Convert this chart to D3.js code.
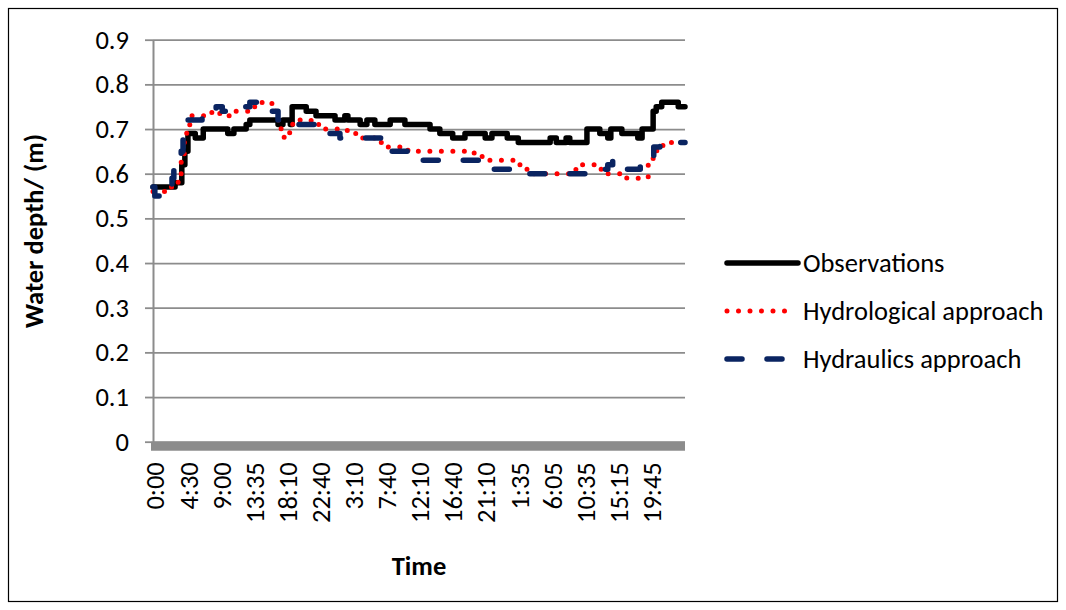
<!DOCTYPE html>
<html>
<head>
<meta charset="utf-8">
<script src="https://cdn.jsdelivr.net/npm/d3@7"></script>
<style>
  html, body { margin: 0; padding: 0; background: #fff; }
  svg { display: block; }
  text { font-family: Carlito, Calibri, Lato, "Liberation Sans", sans-serif; fill: #000; }
</style>
</head>
<body>
<svg id="chart" width="1066" height="610"></svg>
<script>
// ---------- DATA ----------
// Category axis: 5-minute records; a label every 54 categories.
const nCategories = 868;
const labelInterval = 54;
const tickLabels = ["0:00","4:30","9:00","13:35","18:10","22:40","3:10","7:40","12:10","16:40","21:10","1:35","6:05","10:35","15:15","19:45"];
const yTicks = [0, 0.1, 0.2, 0.3, 0.4, 0.5, 0.6, 0.7, 0.8, 0.9];
const seriesNames = ["Observations", "Hydrological approach", "Hydraulics approach"];

// Step series: category index where a level starts, and the level (m)
const obsCat = [0,36,47,52,57,69,82,122,132,152,158,204,212,224,227,250,266,297,313,318,338,349,362,387,411,452,468,489,509,542,553,578,596,648,658,674,680,708,729,742,747,765,791,798,816,821,830,857];
const obsVal = [0.57,0.58,0.62,0.65,0.69,0.68,0.70,0.69,0.70,0.71,0.72,0.71,0.72,0.71,0.75,0.74,0.73,0.72,0.73,0.72,0.71,0.72,0.71,0.72,0.71,0.70,0.69,0.68,0.69,0.68,0.69,0.68,0.67,0.68,0.67,0.68,0.67,0.70,0.69,0.68,0.70,0.69,0.68,0.70,0.74,0.75,0.76,0.75];

const hydroCat = [0,24,41,46,51,55,60,96,109,126,158,178,194,202,209,214,223,228,258,271,317,331,366,383,416,524,537,589,602,614,690,729,741,773,808,816,822,832];
const hydroVal = [0.56,0.57,0.60,0.63,0.67,0.70,0.73,0.74,0.73,0.74,0.75,0.76,0.74,0.72,0.70,0.68,0.70,0.72,0.71,0.70,0.69,0.68,0.67,0.66,0.65,0.64,0.63,0.62,0.61,0.60,0.62,0.61,0.60,0.59,0.62,0.64,0.66,0.67];

const hydrauCat = [0,3,28,31,34,46,49,54,80,103,113,142,158,184,194,204,220,273,305,379,428,547,607,705,742,750,770,795,811,817,827];
const hydrauVal = [0.57,0.55,0.56,0.59,0.61,0.65,0.69,0.72,0.74,0.75,0.74,0.75,0.76,0.75,0.74,0.72,0.71,0.69,0.68,0.65,0.63,0.61,0.60,0.61,0.62,0.63,0.61,0.62,0.64,0.66,0.67];

// ---------- LAYOUT ----------
const svg = d3.select("#chart");
const plot = { left: 153, right: 685, top: 39.7, bottom: 441.7 };
const FS = 26.5;

svg.append("rect").attr("x", 8.5).attr("y", 8.5).attr("width", 1049).attr("height", 593)
  .attr("fill", "#fff").attr("stroke", "#000").attr("stroke-width", 1.2);

const x = d3.scaleLinear().domain([0, nCategories]).range([plot.left, plot.right]);
const y = d3.scaleLinear().domain([0, 0.9]).range([plot.bottom, plot.top]);

const gridColor = "#8c8c8c";

// gridlines
const grid = svg.append("g").attr("transform", `translate(${plot.left},0)`)
  .call(d3.axisLeft(y).tickValues(yTicks).tickSize(-(plot.right - plot.left)).tickFormat(""));
grid.select(".domain").remove();
grid.selectAll("line").attr("stroke", gridColor).attr("stroke-width", 1.8);

// y axis
const yAxis = svg.append("g").attr("transform", `translate(${plot.left},0)`)
  .call(d3.axisLeft(y).tickValues(yTicks).tickSize(8).tickSizeOuter(0).tickPadding(16)
    .tickFormat(d => d === 0 ? "0" : d3.format(".1f")(d)));
yAxis.select(".domain").attr("stroke", gridColor).attr("stroke-width", 2);
yAxis.selectAll(".tick line").attr("stroke", gridColor).attr("stroke-width", 1.8);
yAxis.selectAll(".tick text").attr("font-size", FS).attr("fill", "#000")
  .style("font-family", "Carlito, Calibri, Lato, sans-serif");

// x axis (thick bar)
const tickCats = tickLabels.map((_, i) => i * labelInterval);
const xAxis = svg.append("g").attr("transform", `translate(0,${plot.bottom + 4.5})`)
  .call(d3.axisBottom(x).tickValues(tickCats).tickSize(0).tickSizeOuter(0)
    .tickFormat((d, i) => tickLabels[i]));
xAxis.select(".domain").attr("stroke", gridColor).attr("stroke-width", 9)
  .attr("d", `M${plot.left - 2},0H${plot.right}`);
xAxis.selectAll(".tick").attr("transform", d => `translate(${x(d + 0.5)},0)`);
xAxis.selectAll(".tick text")
  .attr("font-size", FS).attr("fill", "#000")
  .style("font-family", "Carlito, Calibri, Lato, sans-serif")
  .attr("text-anchor", "end")
  .attr("transform", "rotate(-90)")
  .attr("x", -16).attr("y", 0).attr("dy", "0.42em");

// series
const line = d3.line().x(d => x(d[0])).y(d => y(d[1])).curve(d3.curveStepAfter);
function steps(cats, vals) {
  const pts = cats.map((c, i) => [c, vals[i]]);
  pts.push([nCategories, vals[vals.length - 1]]);
  return pts;
}
const styles = [
  { color: "#000000", width: 5.5, dash: null },
  { color: "#ff0000", width: 5, dash: "0 11.5" },
  { color: "#0a2461", width: 5.5, dash: "15 25" }
];
const series = [steps(obsCat, obsVal), steps(hydroCat, hydroVal), steps(hydrauCat, hydrauVal)];
series.forEach((s, i) => {
  svg.append("path").datum(s).attr("d", line)
    .attr("fill", "none").attr("stroke", styles[i].color)
    .attr("stroke-width", styles[i].width)
    .attr("stroke-linecap", "round").attr("stroke-linejoin", "round")
    .attr("stroke-dasharray", styles[i].dash);
});

// axis titles
svg.append("text").attr("x", (plot.left + plot.right) / 2).attr("y", 566)
  .attr("text-anchor", "middle").attr("dominant-baseline", "central")
  .attr("font-size", FS).attr("font-weight", "bold").text("Time");
svg.append("text").attr("transform", "translate(34,231) rotate(-90)")
  .attr("text-anchor", "middle").attr("dominant-baseline", "central")
  .attr("font-size", FS).attr("font-weight", "bold").text("Water depth/ (m)");

// legend
const legY = [263, 311, 359];
seriesNames.forEach((name, i) => {
  const g = svg.append("g");
  g.append("line").attr("x1", 727).attr("x2", i === 0 ? 798 : 787)
    .attr("y1", legY[i]).attr("y2", legY[i])
    .attr("stroke", styles[i].color).attr("stroke-width", styles[i].width)
    .attr("stroke-linecap", "round").attr("stroke-dasharray", styles[i].dash);
  g.append("text").attr("x", 803).attr("y", legY[i]).attr("dominant-baseline", "central")
    .attr("font-size", FS).text(name);
});
</script>
</body>
</html>
